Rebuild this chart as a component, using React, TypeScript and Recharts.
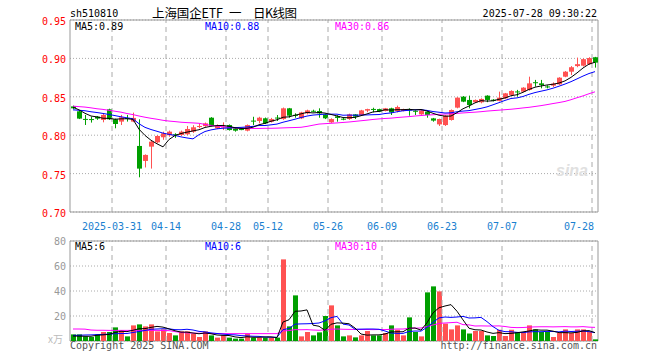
import React from "react";
import {
  ComposedChart,
  Bar,
  Line,
  XAxis,
  YAxis,
  CartesianGrid,
  ReferenceLine,
  ReferenceArea,
  Cell
} from "recharts";

const RED = "#ff5252";
const GREEN = "#009f00";
const MONO = "'DejaVu Sans Mono', monospace";
const CJK = "'Noto Sans CJK SC', sans-serif";

const dates = [
  "2025-03-20", "2025-03-21", "2025-03-24", "2025-03-25", "2025-03-26", "2025-03-27", "2025-03-28",
  "2025-03-31", "2025-04-01", "2025-04-02", "2025-04-03", "2025-04-07", "2025-04-08", "2025-04-09",
  "2025-04-10", "2025-04-11", "2025-04-14", "2025-04-15", "2025-04-16", "2025-04-17", "2025-04-18",
  "2025-04-21", "2025-04-22", "2025-04-23", "2025-04-24", "2025-04-25", "2025-04-28", "2025-04-29",
  "2025-04-30", "2025-05-06", "2025-05-07", "2025-05-08", "2025-05-09", "2025-05-12", "2025-05-13",
  "2025-05-14", "2025-05-15", "2025-05-16", "2025-05-19", "2025-05-20", "2025-05-21", "2025-05-22",
  "2025-05-23", "2025-05-26", "2025-05-27", "2025-05-28", "2025-05-29", "2025-05-30", "2025-06-03",
  "2025-06-04", "2025-06-05", "2025-06-06", "2025-06-09", "2025-06-10", "2025-06-11", "2025-06-12",
  "2025-06-13", "2025-06-16", "2025-06-17", "2025-06-18", "2025-06-19", "2025-06-20", "2025-06-23",
  "2025-06-24", "2025-06-25", "2025-06-26", "2025-06-27", "2025-06-30", "2025-07-01", "2025-07-02",
  "2025-07-03", "2025-07-04", "2025-07-07", "2025-07-08", "2025-07-09", "2025-07-10", "2025-07-11",
  "2025-07-14", "2025-07-15", "2025-07-16", "2025-07-17", "2025-07-18", "2025-07-21", "2025-07-22",
  "2025-07-23", "2025-07-24", "2025-07-25", "2025-07-28"
];

const opens = [
  0.8375, 0.8311, 0.8212, 0.8210, 0.8242, 0.8199, 0.8337, 0.8207, 0.8177, 0.8225, 0.8177, 0.7860,
  0.7665, 0.7851, 0.7907, 0.7973, 0.7999, 0.8012, 0.8003, 0.8012, 0.8046, 0.8115, 0.8119, 0.8228,
  0.8089, 0.8108, 0.8132, 0.8089, 0.8080, 0.8059, 0.8190, 0.8185, 0.8220, 0.8176, 0.8230, 0.8210,
  0.8350, 0.8265, 0.8220, 0.8284, 0.8318, 0.8315, 0.8271, 0.8167, 0.8245, 0.8215, 0.8211, 0.8271,
  0.8263, 0.8320, 0.8342, 0.8340, 0.8315, 0.8350, 0.8315, 0.8315, 0.8335, 0.8318, 0.8271, 0.8306,
  0.8219, 0.8141, 0.8132, 0.8198, 0.8359, 0.8502, 0.8459, 0.8428, 0.8428, 0.8515, 0.8462, 0.8446,
  0.8480, 0.8524, 0.8570, 0.8567, 0.8589, 0.8690, 0.8675, 0.8635, 0.8645, 0.8662, 0.8762, 0.8827,
  0.8900, 0.8905, 0.8925, 0.9015
];

const highs = [
  0.8385, 0.8325, 0.8264, 0.8242, 0.8250, 0.8285, 0.8345, 0.8215, 0.8264, 0.8264, 0.8294, 0.8207,
  0.7750, 0.7925, 0.8000, 0.8046, 0.8060, 0.8025, 0.8060, 0.8120, 0.8130, 0.8150, 0.8165, 0.8235,
  0.8140, 0.8167, 0.8140, 0.8098, 0.8090, 0.8140, 0.8240, 0.8240, 0.8230, 0.8225, 0.8263, 0.8360,
  0.8355, 0.8285, 0.8305, 0.8332, 0.8332, 0.8350, 0.8280, 0.8220, 0.8260, 0.8225, 0.8280, 0.8275,
  0.8330, 0.8345, 0.8358, 0.8345, 0.8355, 0.8358, 0.8385, 0.8345, 0.8350, 0.8323, 0.8330, 0.8310,
  0.8225, 0.8215, 0.8260, 0.8335, 0.8495, 0.8510, 0.8515, 0.8465, 0.8480, 0.8520, 0.8470, 0.8567,
  0.8550, 0.8585, 0.8590, 0.8625, 0.8762, 0.8720, 0.8720, 0.8650, 0.8688, 0.8755, 0.8835, 0.8900,
  0.9010, 0.9000, 0.9015, 0.9020
];

const lows = [
  0.8340, 0.8210, 0.8133, 0.8164, 0.8200, 0.8168, 0.8199, 0.8090, 0.8133, 0.8177, 0.8170, 0.7452,
  0.7580, 0.7565, 0.7895, 0.7940, 0.7980, 0.7965, 0.7990, 0.8000, 0.8030, 0.8090, 0.8110, 0.8115,
  0.8080, 0.8067, 0.8060, 0.8046, 0.8065, 0.8050, 0.8132, 0.8155, 0.8145, 0.8165, 0.8185, 0.8200,
  0.8228, 0.8228, 0.8210, 0.8271, 0.8300, 0.8228, 0.8210, 0.8160, 0.8176, 0.8195, 0.8200, 0.8211,
  0.8255, 0.8300, 0.8298, 0.8300, 0.8310, 0.8263, 0.8297, 0.8310, 0.8254, 0.8263, 0.8265, 0.8228,
  0.8176, 0.8120, 0.8120, 0.8190, 0.8350, 0.8430, 0.8350, 0.8420, 0.8415, 0.8430, 0.8440, 0.8440,
  0.8475, 0.8515, 0.8502, 0.8560, 0.8580, 0.8632, 0.8610, 0.8610, 0.8628, 0.8655, 0.8755, 0.8784,
  0.8885, 0.8895, 0.8915, 0.8880
];

const closes = [
  0.8350, 0.8216, 0.8205, 0.8205, 0.8216, 0.8264, 0.8207, 0.8146, 0.8233, 0.8220, 0.8225, 0.7565,
  0.7743, 0.7916, 0.7990, 0.8025, 0.8046, 0.8003, 0.8046, 0.8081, 0.8103, 0.8120, 0.8154, 0.8124,
  0.8124, 0.8113, 0.8067, 0.8059, 0.8076, 0.8132, 0.8185, 0.8228, 0.8154, 0.8210, 0.8228, 0.8350,
  0.8254, 0.8260, 0.8297, 0.8323, 0.8315, 0.8284, 0.8220, 0.8210, 0.8225, 0.8211, 0.8271, 0.8241,
  0.8323, 0.8340, 0.8340, 0.8306, 0.8350, 0.8297, 0.8367, 0.8340, 0.8332, 0.8315, 0.8323, 0.8263,
  0.8190, 0.8211, 0.8254, 0.8328, 0.8489, 0.8437, 0.8393, 0.8459, 0.8472, 0.8459, 0.8459, 0.8489,
  0.8545, 0.8576, 0.8567, 0.8619, 0.8675, 0.8688, 0.8654, 0.8632, 0.8671, 0.8749, 0.8827, 0.8885,
  0.8925, 0.8990, 0.9005, 0.8945
];

const ma5 = [
  0.8365, 0.8330, 0.8285, 0.8250, 0.8238, 0.8221, 0.8219, 0.8208, 0.8213, 0.8214, 0.8206, 0.8078,
  0.7997, 0.7934, 0.7888, 0.7848, 0.7944, 0.7996, 0.8022, 0.8040, 0.8056, 0.8071, 0.8101, 0.8116,
  0.8125, 0.8127, 0.8116, 0.8097, 0.8088, 0.8089, 0.8104, 0.8136, 0.8155, 0.8182, 0.8201, 0.8234,
  0.8239, 0.8260, 0.8278, 0.8297, 0.8290, 0.8296, 0.8288, 0.8270, 0.8251, 0.8230, 0.8227, 0.8232,
  0.8254, 0.8277, 0.8303, 0.8310, 0.8332, 0.8327, 0.8332, 0.8332, 0.8337, 0.8330, 0.8335, 0.8315,
  0.8285, 0.8260, 0.8248, 0.8249, 0.8294, 0.8344, 0.8380, 0.8421, 0.8450, 0.8444, 0.8448, 0.8468,
  0.8485, 0.8514, 0.8527, 0.8559, 0.8596, 0.8625, 0.8641, 0.8654, 0.8664, 0.8679, 0.8707, 0.8753,
  0.8811, 0.8875, 0.8926, 0.8950
];

const ma10 = [
  0.8330, 0.8325, 0.8318, 0.8305, 0.8295, 0.8283, 0.8270, 0.8255, 0.8240, 0.8226, 0.8214, 0.8149,
  0.8102, 0.8074, 0.8051, 0.8027, 0.8011, 0.7997, 0.7978, 0.7964, 0.7952, 0.8007, 0.8048, 0.8069,
  0.8083, 0.8091, 0.8094, 0.8099, 0.8102, 0.8107, 0.8115, 0.8126, 0.8126, 0.8135, 0.8145, 0.8169,
  0.8188, 0.8208, 0.8230, 0.8249, 0.8262, 0.8268, 0.8274, 0.8274, 0.8274, 0.8260, 0.8262, 0.8260,
  0.8262, 0.8264, 0.8267, 0.8269, 0.8282, 0.8290, 0.8305, 0.8318, 0.8324, 0.8331, 0.8331, 0.8323,
  0.8308, 0.8299, 0.8289, 0.8292, 0.8305, 0.8314, 0.8320, 0.8335, 0.8350, 0.8369, 0.8396, 0.8424,
  0.8453, 0.8478, 0.8486, 0.8504, 0.8532, 0.8555, 0.8573, 0.8590, 0.8612, 0.8638, 0.8666, 0.8697,
  0.8733, 0.8770, 0.8803, 0.8828
];

const ma30 = [
  0.8378, 0.8372, 0.8366, 0.8356, 0.8344, 0.8336, 0.8324, 0.8312, 0.8300, 0.8282, 0.8268, 0.8250,
  0.8234, 0.8220, 0.8208, 0.8194, 0.8184, 0.8177, 0.8169, 0.8164, 0.8160, 0.8155, 0.8140, 0.8128,
  0.8118, 0.8110, 0.8100, 0.8094, 0.8090, 0.8088, 0.8088, 0.8088, 0.8090, 0.8090, 0.8092, 0.8095,
  0.8098, 0.8100, 0.8103, 0.8115, 0.8130, 0.8145, 0.8150, 0.8155, 0.8160, 0.8166, 0.8172, 0.8180,
  0.8188, 0.8196, 0.8205, 0.8212, 0.8218, 0.8222, 0.8230, 0.8236, 0.8242, 0.8250, 0.8256, 0.8262,
  0.8266, 0.8272, 0.8276, 0.8278, 0.8284, 0.8290, 0.8295, 0.8300, 0.8306, 0.8314, 0.8320, 0.8326,
  0.8332, 0.8338, 0.8346, 0.8355, 0.8363, 0.8374, 0.8385, 0.8398, 0.8412, 0.8425, 0.8440, 0.8462,
  0.8488, 0.8512, 0.8540, 0.8565
];

// volume, 万手
const volumes = [
  5.3, 5.3, 3.7, 3.2, 5.3, 7.2, 7.2, 10.9, 8.5, 3.7, 12.5, 13.3, 11.7, 13.3, 7.7, 9.3, 6.4, 4.5,
  7.7, 7.7, 5.9, 3.2, 7.7, 4.5, 2.7, 4.5, 2.7, 1.9, 1.9, 5.9, 2.7, 2.7, 2.7, 2.7, 2.7, 65.3, 11.7,
  36.5, 3.7, 7.2, 4.5, 6.9, 20.0, 28.5, 12.5, 3.7, 4.5, 2.9, 4.5, 8.0, 4.5, 4.5, 6.4, 12.5, 9.0,
  4.5, 18.9, 7.2, 3.7, 38.9, 43.7, 39.7, 13.9, 9.3, 12.5, 9.3, 6.0, 8.0, 8.0, 4.5, 4.0, 9.0, 4.0,
  9.0, 7.2, 7.2, 12.5, 9.3, 7.2, 7.2, 3.2, 6.4, 9.3, 6.4, 9.3, 9.3, 7.2, 1.3
];

const vma5 = [
  4.0, 3.9, 3.8, 3.8, 4.6, 4.9, 5.3, 6.8, 7.8, 7.5, 8.6, 9.8, 9.9, 10.9, 11.7, 11.1, 9.7, 8.2, 7.1,
  7.1, 6.4, 5.8, 6.4, 5.8, 4.8, 4.5, 4.4, 3.3, 2.7, 3.4, 3.0, 3.0, 3.2, 3.3, 2.7, 15.2, 17.0, 23.8,
  24.0, 24.9, 12.7, 11.8, 8.5, 13.4, 14.5, 14.3, 13.8, 10.4, 5.6, 4.7, 4.9, 4.9, 5.6, 7.2, 7.4, 7.4,
  10.3, 10.4, 8.7, 14.6, 22.5, 26.6, 28.0, 29.1, 23.8, 16.9, 10.2, 9.0, 8.8, 7.2, 6.1, 6.7, 5.9, 6.1,
  6.6, 7.3, 8.0, 9.0, 8.7, 8.7, 7.9, 6.7, 6.7, 6.5, 6.9, 8.1, 8.3, 6.7
];

const vma10 = [
  4.5, 4.6, 4.8, 4.9, 5.1, 5.3, 5.5, 5.8, 6.0, 6.0, 6.8, 7.6, 8.4, 9.4, 9.6, 9.8, 9.7, 9.1, 9.0, 9.4,
  8.8, 7.7, 7.3, 6.5, 6.0, 5.5, 5.1, 4.9, 4.3, 4.1, 3.8, 3.7, 3.2, 3.0, 3.0, 9.1, 10.0, 13.5, 13.7,
  13.8, 14.0, 14.4, 16.1, 18.7, 19.7, 13.5, 12.8, 9.4, 9.5, 9.6, 9.6, 9.4, 8.0, 6.4, 6.1, 6.1, 7.6,
  8.0, 7.9, 11.0, 14.9, 18.5, 19.2, 18.9, 19.2, 19.7, 18.4, 18.5, 18.9, 15.5, 11.5, 8.5, 7.5, 7.4,
  6.9, 6.7, 7.3, 7.5, 7.4, 7.7, 7.6, 7.3, 7.9, 7.6, 7.8, 8.0, 7.5, 6.7
];

const vma30 = [
  9.6, 9.6, 9.5, 8.8, 8.6, 8.6, 8.5, 8.5, 8.5, 8.5, 8.5, 8.5, 8.5, 8.5, 8.5, 8.4, 8.3, 7.5, 6.8, 6.5,
  6.3, 6.2, 6.1, 6.0, 6.0, 5.9, 5.9, 5.9, 5.9, 5.9, 5.9, 5.9, 5.9, 5.9, 5.9, 8.1, 8.3, 9.1, 9.0, 9.1,
  8.8, 8.6, 8.9, 9.4, 9.6, 9.4, 9.3, 9.3, 9.2, 9.2, 9.1, 9.2, 9.1, 9.4, 9.6, 9.6, 10.1, 10.3, 10.4,
  11.5, 12.8, 14.1, 14.4, 14.7, 15.0, 13.1, 12.9, 12.0, 12.1, 12.0, 12.0, 12.1, 11.6, 10.9, 10.7,
  10.8, 11.1, 11.3, 11.4, 11.4, 11.3, 11.4, 11.5, 11.3, 11.3, 11.5, 11.1, 10.9
];

const tickDates = [
  "2025-03-31", "2025-04-14", "2025-04-28", "2025-05-12", "2025-05-26",
  "2025-06-09", "2025-06-23", "2025-07-07", "2025-07-28"
];
const priceTicks = [0.7, 0.75, 0.8, 0.85, 0.9, 0.95];
const volTicks = [0, 20, 40, 60, 80];

const rows = dates.map((d, i) => ({
  d,
  lh: [lows[i], highs[i]],
  o: opens[i],
  h: highs[i],
  l: lows[i],
  c: closes[i],
  v: volumes[i],
  ma5: ma5[i],
  ma10: ma10[i],
  ma30: ma30[i],
  vma5: vma5[i],
  vma10: vma10[i],
  vma30: vma30[i]
}));

function Candle(props: any) {
  const { x, y, width, height, payload } = props;
  const { o, c, h, l } = payload;
  const color = c >= o ? RED : GREEN;
  const top = Math.min(y, y + height);
  const k = h > l ? Math.abs(height) / (h - l) : 0;
  const py = (v: number) => top + (h - v) * k;
  const mid = Math.floor(x + width / 2) + 0.5;
  const bodyTop = py(Math.max(o, c));
  const bodyH = Math.max(1, py(Math.min(o, c)) - bodyTop);
  return (
    <g>
      <line x1={mid} x2={mid} y1={py(h)} y2={py(l)} stroke={color} strokeWidth={1} />
      <rect x={mid - 2.5} y={bodyTop} width={5} height={bodyH} fill={color} />
    </g>
  );
}

function DateTick(props: any) {
  const { x, payload } = props;
  const d: string = payload.value;
  const last = d === tickDates[tickDates.length - 1];
  const label = d === tickDates[0] ? d : d.slice(5);
  return (
    <text
      x={last ? x - 1 : x - 3}
      y={229.5}
      textAnchor={last ? "end" : "middle"}
      fill="#1a7fd0"
      fontFamily={MONO}
      fontSize={10}
    >
      {label}
    </text>
  );
}

function PriceTick(props: any) {
  const { y, payload } = props;
  return (
    <text x={66} y={y + 5} textAnchor="end" fill="#ff0000" fontFamily={MONO} fontSize={10}>
      {payload.value.toFixed(2)}
    </text>
  );
}

function VolTick(props: any) {
  const { y, payload } = props;
  if (payload.value === 0) {
    return (
      <text x={63} y={y + 2} textAnchor="end" fill="#bbb" fontFamily={CJK} fontSize={10}>
        x万
      </text>
    );
  }
  return (
    <text x={66} y={y + 4} textAnchor="end" fill="#999" fontFamily={MONO} fontSize={10}>
      {payload.value}
    </text>
  );
}

export default function App() {
  return (
    <div style={wrap}>
      {/* price panel */}
      <div style={{ position: "absolute", left: 0, top: 0 }}>
        <ComposedChart
          width={660}
          height={230}
          data={rows}
          margin={{ top: 20, right: 62, bottom: 0, left: 0 }}
          barCategoryGap={0}
        >
          <CartesianGrid vertical={false} stroke="#aaa" strokeDasharray="1 2" />
          {tickDates.map((d) => (
            <ReferenceLine key={d} x={d} position="start" stroke="#aaa" strokeDasharray="5 4" />
          ))}
          <ReferenceArea y1={0.7} y2={0.95} fill="none" stroke="#999" strokeWidth={1} />
          <XAxis
            dataKey="d"
            ticks={tickDates}
            interval={0}
            height={18}
            axisLine={false}
            tickLine={false}
            tick={<DateTick />}
          />
          <YAxis
            domain={[0.7, 0.95]}
            ticks={priceTicks}
            width={70}
            axisLine={false}
            tickLine={false}
            tick={<PriceTick />}
          />
          <Bar dataKey="lh" shape={<Candle />} isAnimationActive={false} />
          <Line dataKey="ma30" stroke="#ff00ff" strokeWidth={1} dot={false} isAnimationActive={false} />
          <Line dataKey="ma10" stroke="#0000ff" strokeWidth={1} dot={false} isAnimationActive={false} />
          <Line dataKey="ma5" stroke="#000000" strokeWidth={1} dot={false} isAnimationActive={false} />
        </ComposedChart>
      </div>

      {/* volume panel */}
      <div style={{ position: "absolute", left: 0, top: 230 }}>
        <ComposedChart
          width={660}
          height={130}
          data={rows}
          margin={{ top: 11, right: 62, bottom: 19, left: 0 }}
          barCategoryGap={0}
        >
          <CartesianGrid vertical={false} stroke="#aaa" strokeDasharray="1 2" />
          {tickDates.map((d) => (
            <ReferenceLine key={d} x={d} position="start" stroke="#aaa" strokeDasharray="5 4" />
          ))}
          <ReferenceArea y1={0} y2={80} fill="none" stroke="#999" strokeWidth={1} />
          <XAxis dataKey="d" hide />
          <YAxis
            domain={[0, 80]}
            ticks={volTicks}
            width={70}
            axisLine={false}
            tickLine={false}
            tick={<VolTick />}
          />
          <Bar dataKey="v" barSize={5} isAnimationActive={false}>
            {rows.map((r, i) => (
              <Cell key={i} fill={r.c >= r.o ? RED : GREEN} />
            ))}
          </Bar>
          <Line dataKey="vma30" stroke="#ff00ff" strokeWidth={1} dot={false} isAnimationActive={false} />
          <Line dataKey="vma10" stroke="#0000ff" strokeWidth={1} dot={false} isAnimationActive={false} />
          <Line dataKey="vma5" stroke="#000000" strokeWidth={1} dot={false} isAnimationActive={false} />
        </ComposedChart>
      </div>

      {/* titles and labels */}
      <svg width={660} height={360} style={{ position: "absolute", left: 0, top: 0, pointerEvents: "none" }}>
        <text x={70} y={17} fontFamily={MONO} fontSize={10} fill="#000">sh510810</text>
        <text x={152} y={17.5} fontFamily={CJK} fontSize={12.5} fill="#000" textLength={71} lengthAdjust="spacing">上海国企ETF</text>
        <text x={229} y={17.5} fontFamily={CJK} fontSize={12.5} fill="#000">一</text>
        <text x={253} y={17.5} fontFamily={CJK} fontSize={12.5} fill="#000" textLength={44} lengthAdjust="spacing">日K线图</text>
        <text x={597} y={16.5} textAnchor="end" fontFamily={MONO} fontSize={10} fill="#000">2025-07-28 09:30:22</text>

        <text x={75} y={29.5} fontFamily={MONO} fontSize={10} fill="#000">MA5:0.89</text>
        <text x={205} y={29.5} fontFamily={MONO} fontSize={10} fill="#0000ff">MA10:0.88</text>
        <text x={335} y={29.5} fontFamily={MONO} fontSize={10} fill="#ff00ff">MA30:0.86</text>

        <text x={572} y={176} textAnchor="middle" fontFamily="Arial, sans-serif" fontStyle="italic"
          fontWeight="bold" fontSize={16} fill="#e0e0e0">sina</text>

        <text x={75} y={250} fontFamily={MONO} fontSize={10} fill="#000">MA5:6</text>
        <text x={205} y={250} fontFamily={MONO} fontSize={10} fill="#0000ff">MA10:6</text>
        <text x={335} y={250} fontFamily={MONO} fontSize={10} fill="#ff00ff">MA30:10</text>

        <text x={70} y={349} fontFamily={MONO} fontSize={10} fill="#555">Copyright 2025 SINA.COM</text>
        <text x={597} y={349} textAnchor="end" fontFamily={MONO} fontSize={10} fill="#555">http://finance.sina.com.cn</text>
      </svg>
    </div>
  );
}

const wrap: React.CSSProperties = {
  position: "fixed",
  left: 0,
  top: 0,
  width: 660,
  height: 360,
  background: "#fff",
  overflow: "hidden"
};
